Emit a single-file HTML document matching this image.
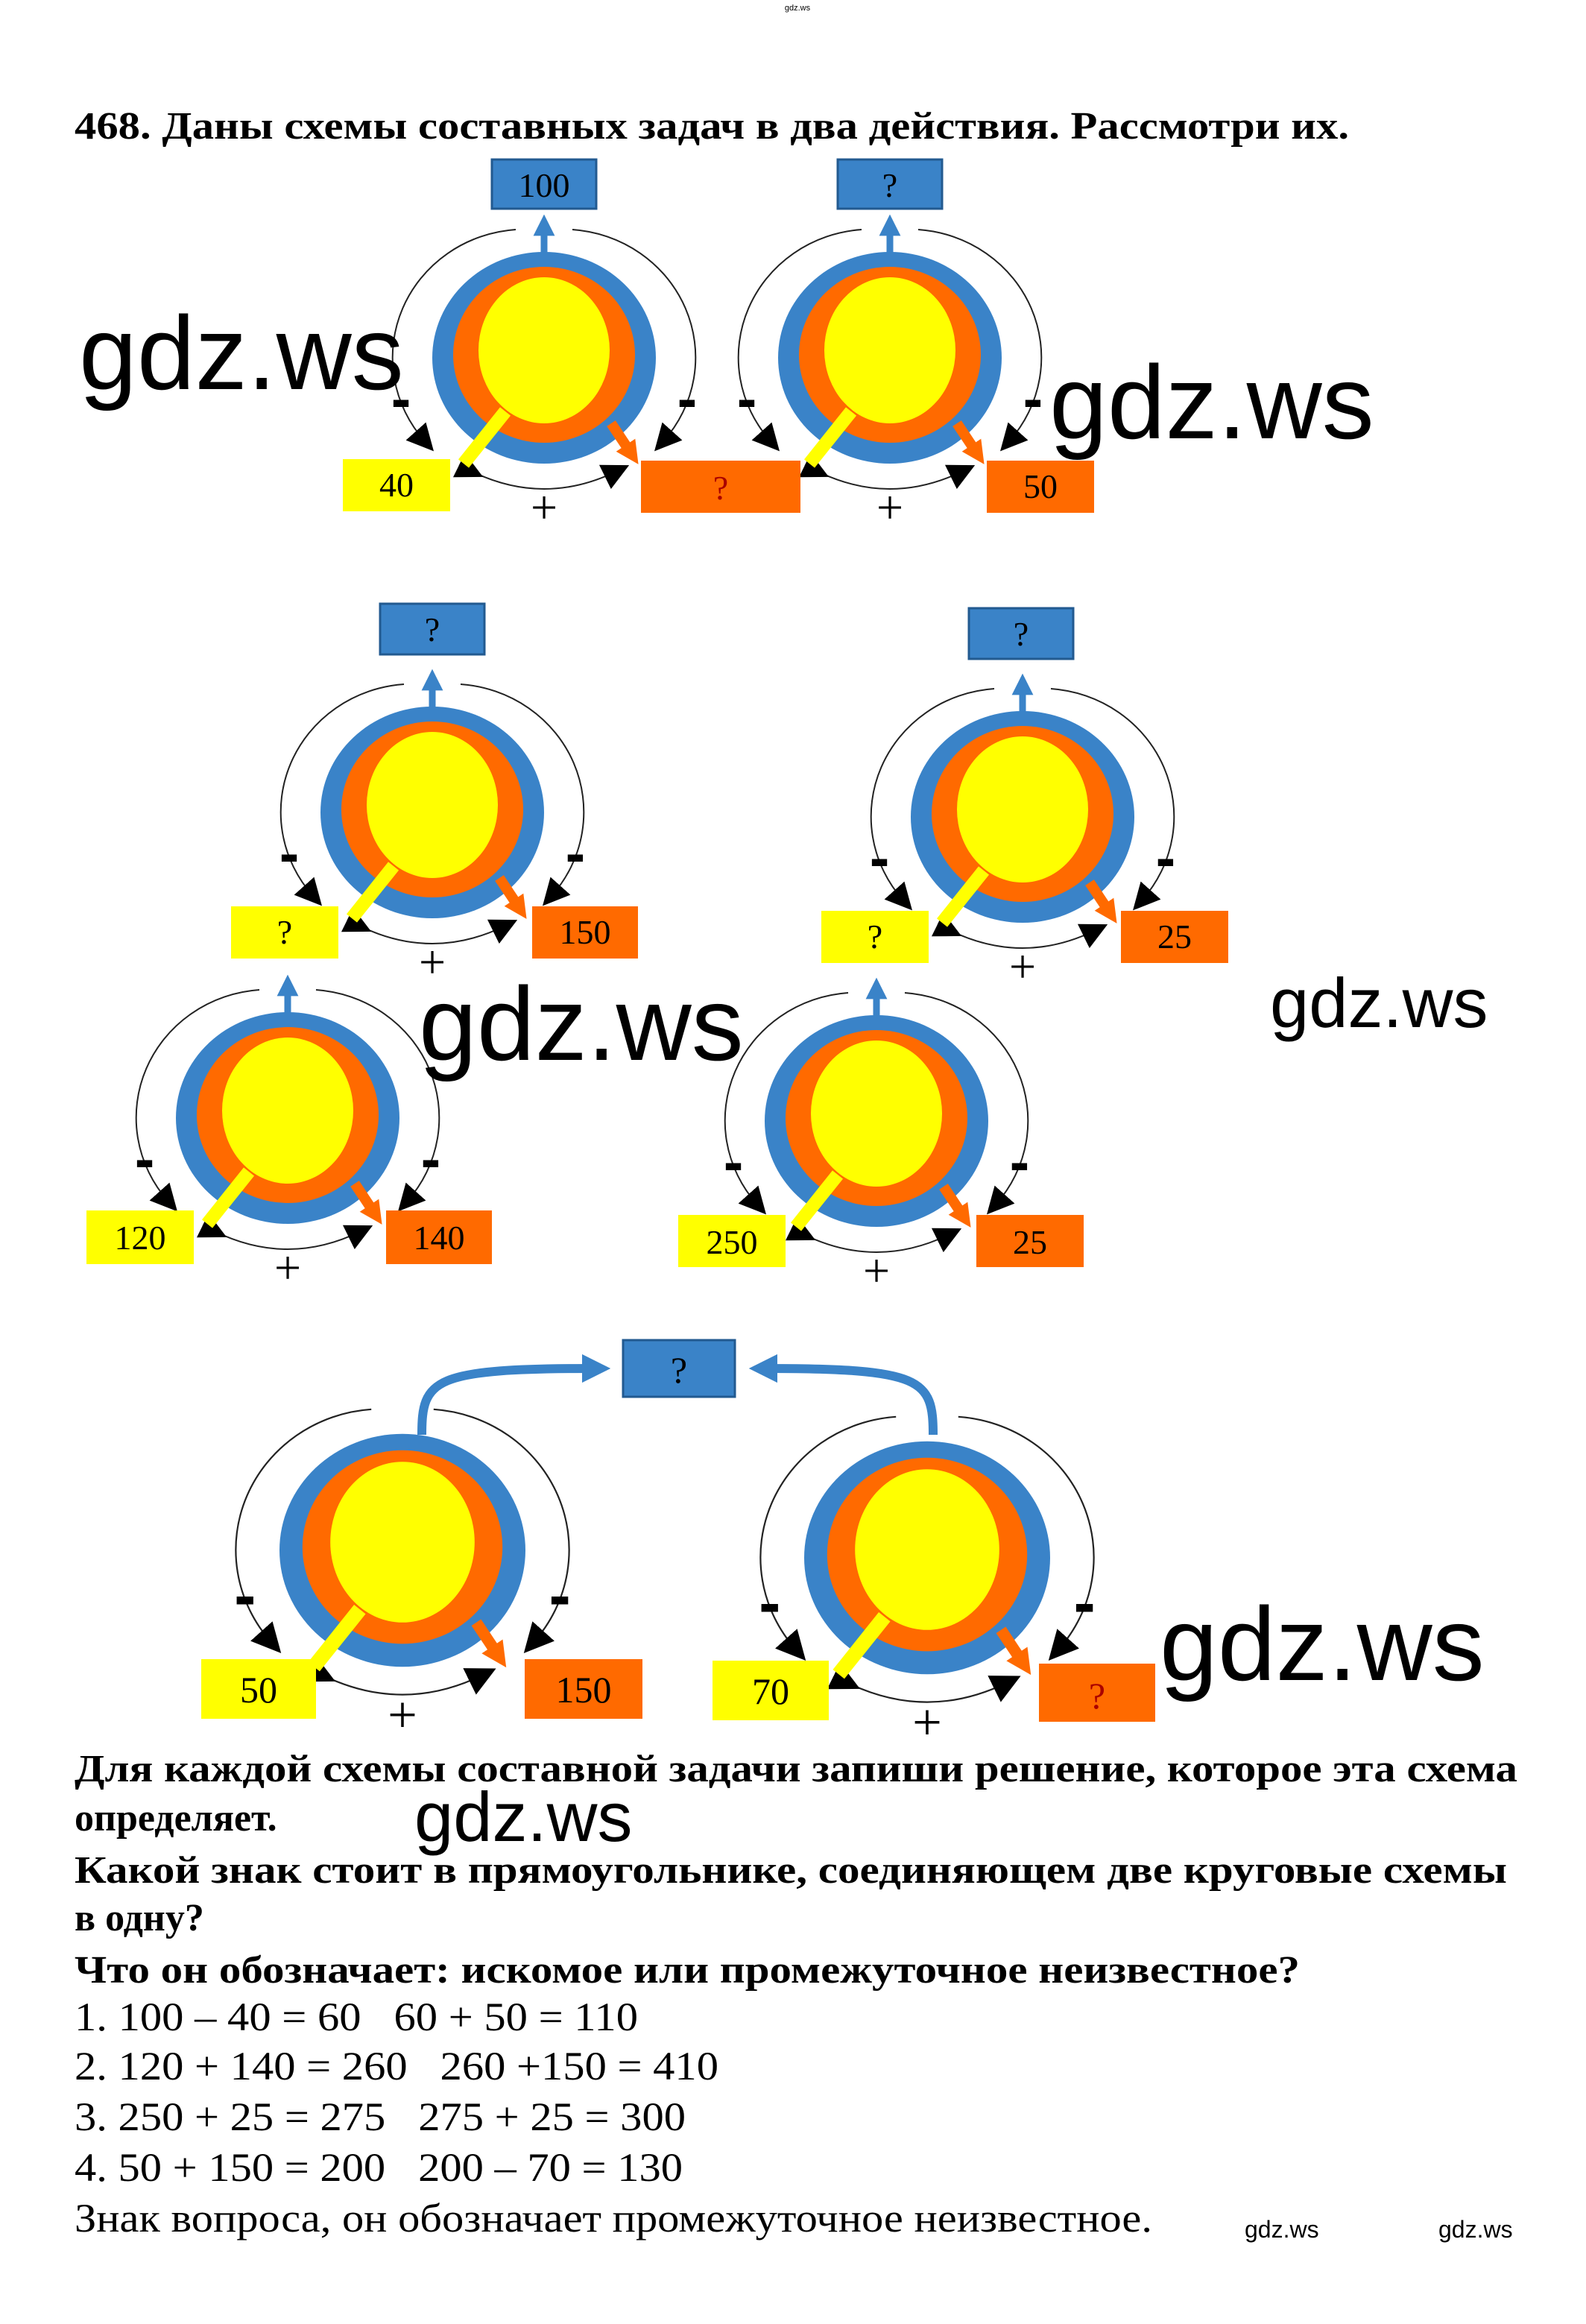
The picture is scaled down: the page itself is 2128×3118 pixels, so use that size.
<!DOCTYPE html>
<html><head><meta charset="utf-8"><style>
html,body{margin:0;padding:0;background:#fff;}
svg{display:block}
.t{font-family:"Liberation Serif",serif;}
.w{font-family:"Liberation Sans",sans-serif;fill:#000}
</style></head><body>
<svg width="2128" height="3118" viewBox="0 0 2128 3118" xmlns="http://www.w3.org/2000/svg">
<defs>
<marker id="ah" viewBox="0 0 10 10" refX="5" refY="5" markerWidth="18" markerHeight="18" orient="auto"><path d="M0,0 L10,5 L0,10 z" fill="#000"/></marker>
<marker id="ab" viewBox="0 0 10 10" refX="5" refY="5" markerWidth="3.2" markerHeight="3.2" orient="auto"><path d="M0,0 L10,5 L0,10 z" fill="#3a83c8"/></marker>
<marker id="ao" viewBox="0 0 10 10" refX="5" refY="5" markerWidth="2.2" markerHeight="2.2" orient="auto"><path d="M0,0 L10,5 L0,10 z" fill="#ff6a00"/></marker>
<g id="c">
 <path d="M-38,-172 A178 172 0 0 0 -160 112" fill="none" stroke="#222" stroke-width="2" marker-end="url(#ah)"/>
 <path d="M38,-172 A178 172 0 0 1 160 112" fill="none" stroke="#222" stroke-width="2" marker-end="url(#ah)"/>
 <path d="M-98,152 Q0,200 98,152" fill="none" stroke="#222" stroke-width="2" marker-start="url(#ah)" marker-end="url(#ah)"/>
 <ellipse cx="0" cy="0" rx="150" ry="142" fill="#3a83c8"/>
 <ellipse cx="0" cy="-4" rx="122" ry="118" fill="#ff6a00"/>
 <ellipse cx="0" cy="-10" rx="88" ry="98" fill="#ffff00"/>
 <path d="M-52,72 L-108,142" stroke="#ffff00" stroke-width="18"/>
 <path d="M90,88 L118,130" stroke="#ff6a00" stroke-width="14" marker-end="url(#ao)"/>
 <text x="-192" y="82" class="w" font-size="80" font-weight="bold" text-anchor="middle">-</text>
 <text x="192" y="82" class="w" font-size="80" font-weight="bold" text-anchor="middle">-</text>
 <text x="0" y="222" class="t" font-size="64" text-anchor="middle">+</text>
</g>
<g id="up"><path d="M0,-140 L0,-178" stroke="#3a83c8" stroke-width="9" marker-end="url(#ab)"/></g>
</defs>

<text x="1070" y="14" class="w" font-size="11" fill="#88a" text-anchor="middle">gdz.ws</text>
<text x="100" y="186" class="t" font-size="52" font-weight="bold" textLength="1710" lengthAdjust="spacingAndGlyphs">468. Даны схемы составных задач в два действия. Рассмотри их.</text>

<!-- row 1 -->
<use href="#c" x="730" y="480"/><use href="#up" x="730" y="480"/>
<use href="#c" x="1194" y="480"/><use href="#up" x="1194" y="480"/>
<g class="t" font-size="46" text-anchor="middle">
<rect x="660" y="214" width="140" height="66" fill="#3a83c8" stroke="#225a90" stroke-width="3"/><text x="730" y="264">100</text>
<rect x="1124" y="214" width="140" height="66" fill="#3a83c8" stroke="#225a90" stroke-width="3"/><text x="1194" y="264">?</text>
<rect x="460" y="616" width="144" height="70" fill="#ffff00"/><text x="532" y="666">40</text>
<rect x="860" y="618" width="214" height="70" fill="#ff6a00"/><text x="967" y="670" fill="#a00">?</text>
<rect x="1324" y="618" width="144" height="70" fill="#ff6a00"/><text x="1396" y="668">50</text>
</g>

<!-- row 2 -->
<use href="#c" x="580" y="1090"/><use href="#up" x="580" y="1090"/>
<use href="#c" x="1372" y="1096"/><use href="#up" x="1372" y="1096"/>
<use href="#c" x="386" y="1500"/><use href="#up" x="386" y="1500"/>
<use href="#c" x="1176" y="1504"/><use href="#up" x="1176" y="1504"/>
<g class="t" font-size="46" text-anchor="middle">
<rect x="510" y="810" width="140" height="68" fill="#3a83c8" stroke="#225a90" stroke-width="3"/><text x="580" y="860">?</text>
<rect x="1300" y="816" width="140" height="68" fill="#3a83c8" stroke="#225a90" stroke-width="3"/><text x="1370" y="866">?</text>
<rect x="310" y="1216" width="144" height="70" fill="#ffff00"/><text x="382" y="1266">?</text>
<rect x="714" y="1216" width="142" height="70" fill="#ff6a00"/><text x="785" y="1266">150</text>
<rect x="1102" y="1222" width="144" height="70" fill="#ffff00"/><text x="1174" y="1272">?</text>
<rect x="1504" y="1222" width="144" height="70" fill="#ff6a00"/><text x="1576" y="1272">25</text>
<rect x="116" y="1624" width="144" height="72" fill="#ffff00"/><text x="188" y="1676">120</text>
<rect x="518" y="1624" width="142" height="72" fill="#ff6a00"/><text x="589" y="1676">140</text>
<rect x="910" y="1630" width="144" height="70" fill="#ffff00"/><text x="982" y="1682">250</text>
<rect x="1310" y="1630" width="144" height="70" fill="#ff6a00"/><text x="1382" y="1682">25</text>
</g>

<!-- row 4 -->
<use href="#c" transform="translate(540,2080) scale(1.1)"/>
<use href="#c" transform="translate(1244,2090) scale(1.1)"/>
<path d="M566,1925 C566,1850 580,1836 800,1836" fill="none" stroke="#3a83c8" stroke-width="12" marker-end="url(#ab)"/>
<path d="M1252,1925 C1252,1850 1238,1836 1024,1836" fill="none" stroke="#3a83c8" stroke-width="12" marker-end="url(#ab)"/>
<g class="t" font-size="50" text-anchor="middle">
<rect x="836" y="1798" width="150" height="76" fill="#3a83c8" stroke="#225a90" stroke-width="3"/><text x="911" y="1855">?</text>
<rect x="270" y="2226" width="154" height="80" fill="#ffff00"/><text x="347" y="2284">50</text>
<rect x="704" y="2226" width="158" height="80" fill="#ff6a00"/><text x="783" y="2284">150</text>
<rect x="956" y="2228" width="156" height="80" fill="#ffff00"/><text x="1034" y="2286">70</text>
<rect x="1394" y="2232" width="156" height="78" fill="#ff6a00"/><text x="1472" y="2292" fill="#a00">?</text>
</g>

<!-- watermarks -->
<text x="106" y="522" class="w" font-size="140">gdz.ws</text>
<text x="1408" y="588" class="w" font-size="140">gdz.ws</text>
<text x="562" y="1422" class="w" font-size="140">gdz.ws</text>
<text x="1704" y="1378" class="w" font-size="94">gdz.ws</text>
<text x="1556" y="2254" class="w" font-size="140">gdz.ws</text>

<!-- bottom text -->
<g class="t" font-size="52" font-weight="bold">
<text x="100" y="2390" textLength="1936" lengthAdjust="spacingAndGlyphs">Для каждой схемы составной задачи запиши решение, которое эта схема</text>
<text x="100" y="2456">определяет.</text>
<text x="100" y="2526" textLength="1922" lengthAdjust="spacingAndGlyphs">Какой знак стоит в прямоугольнике, соединяющем две круговые схемы</text>
<text x="100" y="2590">в одну?</text>
<text x="100" y="2660" textLength="1644" lengthAdjust="spacingAndGlyphs">Что он обозначает: искомое или промежуточное неизвестное?</text>
</g>
<text x="556" y="2470" class="w" font-size="94">gdz.ws</text>
<g class="t" font-size="54">
<text x="100" y="2724" xml:space="preserve" textLength="756" lengthAdjust="spacingAndGlyphs">1. 100 – 40 = 60   60 + 50 = 110</text>
<text x="100" y="2790" xml:space="preserve" textLength="864" lengthAdjust="spacingAndGlyphs">2. 120 + 140 = 260   260 +150 = 410</text>
<text x="100" y="2858" xml:space="preserve" textLength="820" lengthAdjust="spacingAndGlyphs">3. 250 + 25 = 275   275 + 25 = 300</text>
<text x="100" y="2926" xml:space="preserve" textLength="816" lengthAdjust="spacingAndGlyphs">4. 50 + 150 = 200   200 – 70 = 130</text>
<text x="100" y="2994" textLength="1446" lengthAdjust="spacingAndGlyphs">Знак вопроса, он обозначает промежуточное неизвестное.</text>
</g>
<text x="1670" y="3002" class="w" font-size="32">gdz.ws</text>
<text x="1930" y="3002" class="w" font-size="32">gdz.ws</text>
</svg>
</body></html>
